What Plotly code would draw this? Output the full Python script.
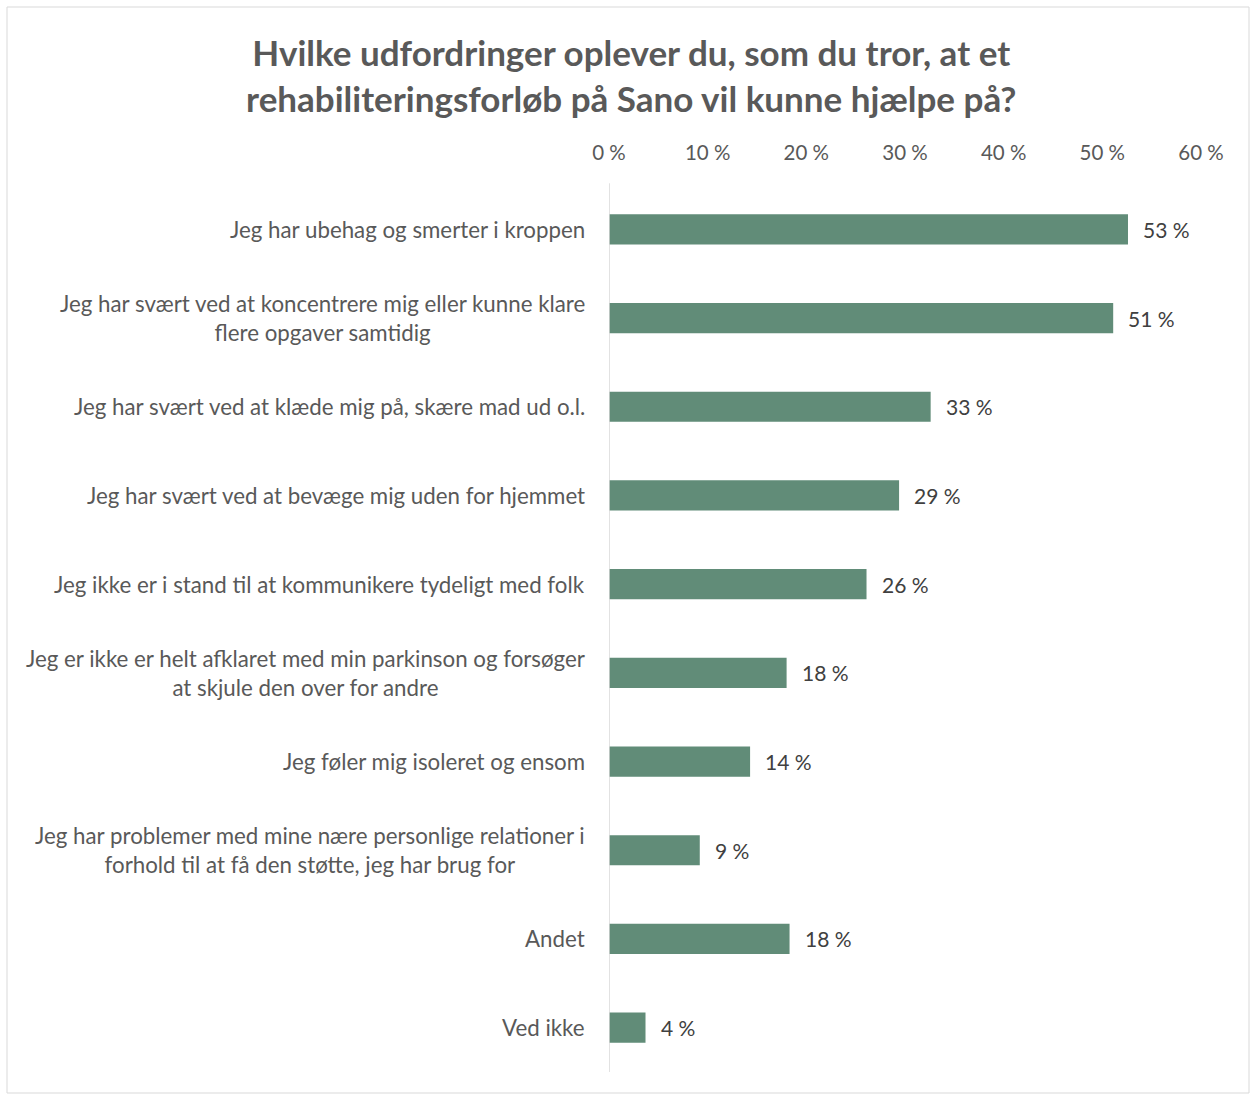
import plotly.graph_objects as go

categories = [
    "Jeg har ubehag og smerter i kroppen",
    "Jeg har svært ved at koncentrere mig eller kunne klare<br>flere opgaver samtidig",
    "Jeg har svært ved at klæde mig på, skære mad ud o.l.",
    "Jeg har svært ved at bevæge mig uden for hjemmet",
    "Jeg ikke er i stand til at kommunikere tydeligt med folk",
    "Jeg er ikke er helt afklaret med min parkinson og forsøger<br>at skjule den over for andre",
    "Jeg føler mig isoleret og ensom",
    "Jeg har problemer med mine nære personlige relationer i<br>forhold til at få den støtte, jeg har brug for",
    "Andet",
    "Ved ikke",
]
values = [52.6, 51.1, 32.6, 29.4, 26.1, 18.0, 14.3, 9.2, 18.3, 3.7]
tick_vals = [0, 10, 20, 30, 40, 50, 60]
tick_text = ["0 %", "10 %", "20 %", "30 %", "40 %", "50 %", "60 %"]

W, H = 1250, 1095
ML, MR, MT, MB = 609, 49, 185, 23
FONT = "Lato"
GRAY = "#595959"
BAR = "#618C78"

fig = go.Figure(go.Bar(
    x=values, y=categories, orientation="h",
    marker=dict(color=BAR, line=dict(width=0)),
    hoverinfo="x+y",
))

annotations = []
for c, v in zip(categories, values):
    annotations.append(dict(x=v, y=c, xref="x", yref="y", text=f"{round(v)} %",
                            showarrow=False, xanchor="left", xshift=13,
                            font=dict(family=FONT, size=21, color="#404040")))
    annotations.append(dict(x=0, y=c, xref="paper", yref="y", text=c,
                            showarrow=False, xanchor="right", align="center",
                            xshift=-22,
                            font=dict(family=FONT, size=22.3, color=GRAY)))

pw = W - ML - MR
ph = H - MT - MB
def px2x(p):
    return (p - ML) / pw
def py2y(p):
    return 1 - (p - MT) / ph

fig.update_layout(
    width=W, height=H,
    margin=dict(l=ML, r=MR, t=MT, b=MB),
    paper_bgcolor="white", plot_bgcolor="white",
    bargap=0.66,
    showlegend=False,
    title=dict(text="Hvilke udfordringer oplever du, som du tror, at et<br>rehabiliteringsforløb på Sano vil kunne hjælpe på?",
               x=0.505, xanchor="center", y=1 - 66 / H, yanchor="middle",
               font=dict(family=FONT, size=35, color=GRAY, weight="bold")),
    xaxis=dict(range=[0, 60], side="top", tickvals=tick_vals, ticktext=tick_text,
               showgrid=False, zeroline=False, showline=False,
               ticks="", ticklabelstandoff=20,
               tickfont=dict(family=FONT, size=20.5, color=GRAY), fixedrange=True),
    yaxis=dict(autorange="reversed", showticklabels=False, showgrid=False,
               zeroline=False, showline=False, ticks="", fixedrange=True),
    annotations=annotations,
    shapes=[
        dict(type="line", xref="x", yref="paper", x0=0, x1=0, y0=0, y1=1.002,
             line=dict(color="#D9D9D9", width=1.5)),
        dict(type="rect", xref="paper", yref="paper",
             x0=px2x(7), x1=px2x(1249), y0=py2y(1093), y1=py2y(7),
             line=dict(color="#D9D9D9", width=1), fillcolor="rgba(0,0,0,0)"),
    ],
)

fig.write_html("out.html")
